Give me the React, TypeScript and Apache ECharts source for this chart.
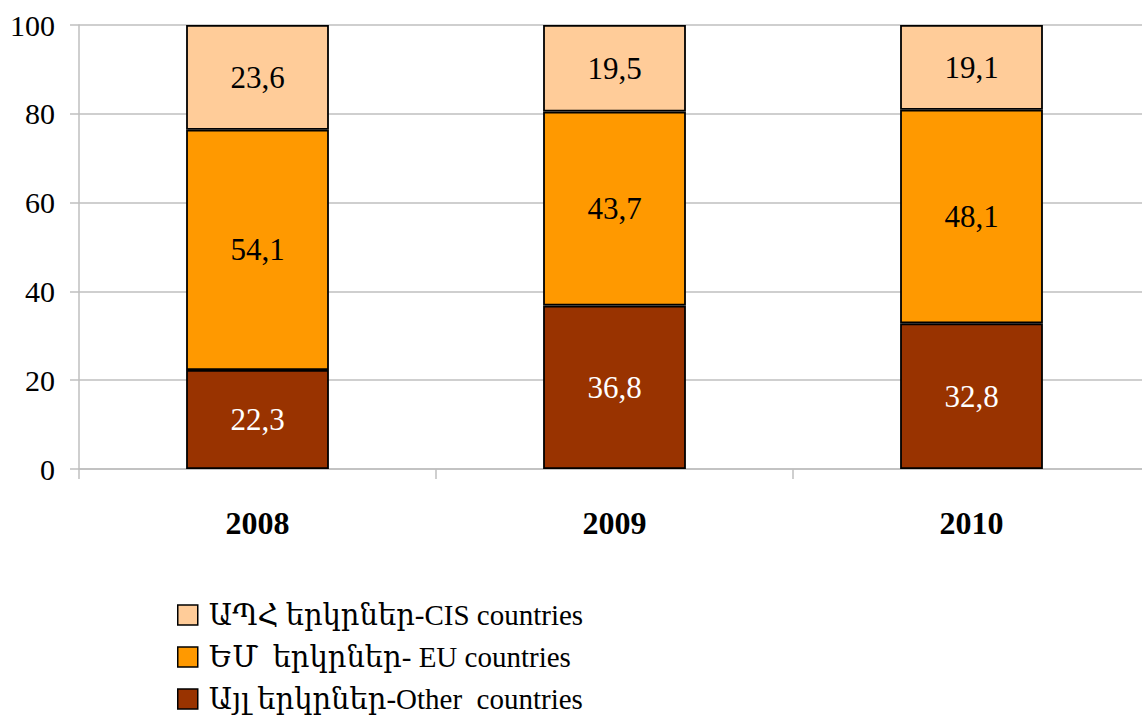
import React, { useEffect, useRef } from "react";
import * as echarts from "echarts";

const years = ["2008", "2009", "2010"];
const otherValues = [22.3, 36.8, 32.8];
const euValues = [54.1, 43.7, 48.1];
const cisValues = [23.6, 19.5, 19.1];
const seriesNames = [
  "ԱՊՀ երկրներ-CIS countries",
  "ԵՄ  երկրներ- EU countries",
  "Այլ երկրներ-Other  countries",
];
const yTicks = [0, 20, 40, 60, 80, 100];

const FONT = "'Liberation Serif', 'DejaVu Serif', serif";

export default function App() {
  const ref = useRef<HTMLDivElement>(null);
  useEffect(() => {
    if (!ref.current) return;
    const chart = echarts.init(ref.current, null, { renderer: "svg" });
    const fmt = (p: any) => String(p.value).replace(".", ",");
    const mk = (name: string, data: number[], color: string, labelColor: string) => ({
      name,
      type: "bar",
      stack: "total",
      data,
      barWidth: "40%",
      itemStyle: { color, borderColor: "#000", borderWidth: 1.8 },
      label: {
        show: true,
        position: "inside",
        formatter: fmt,
        color: labelColor,
        fontFamily: FONT,
        fontSize: 31,
      },
    });
    chart.setOption({
      animation: false,
      grid: { left: 79, top: 25, width: 1071, height: 444, outerBoundsMode: "none" },
      legend: {
        orient: "vertical",
        left: 172,
        top: 594,
        height: 140,
        icon: "rect",
        itemWidth: 20,
        itemHeight: 20,
        itemGap: 10,
        data: seriesNames,
        textStyle: {
          fontFamily: FONT,
          fontSize: 29,
          color: "#000",
          lineHeight: 32,
          padding: [0, 0, 0, 6],
        },
        itemStyle: { borderColor: "#000", borderWidth: 1.5 },
      },
      xAxis: {
        type: "category",
        data: years,
        axisLine: { lineStyle: { color: "#bfbfbf", width: 1.5 } },
        axisTick: { show: true, length: 10, lineStyle: { color: "#bfbfbf", width: 1.5 } },
        axisLabel: {
          margin: 38,
          fontFamily: FONT,
          fontSize: 32,
          fontWeight: "bold",
          color: "#000",
        },
      },
      yAxis: {
        type: "value",
        min: 0,
        max: 100,
        interval: 20,
        axisLine: { show: true, lineStyle: { color: "#bfbfbf", width: 1.5 } },
        axisTick: { show: true, length: 9, lineStyle: { color: "#bfbfbf", width: 1.5 } },
        splitLine: { lineStyle: { color: "#bfbfbf", width: 1.5 } },
        axisLabel: {
          margin: 24,
          fontFamily: FONT,
          fontSize: 30,
          color: "#000",
          formatter: (v: number) => (yTicks.includes(v) ? String(v) : ""),
        },
      },
      series: [
        mk(seriesNames[2], otherValues, "#993300", "#ffffff"),
        mk(seriesNames[1], euValues, "#ff9900", "#000000"),
        mk(seriesNames[0], cisValues, "#ffcc99", "#000000"),
      ],
    });
    return () => chart.dispose();
  }, []);
  return (
    <div
      ref={ref}
      style={{ position: "fixed", left: 0, top: 0, width: 1142, height: 719, background: "#fff" }}
    />
  );
}
